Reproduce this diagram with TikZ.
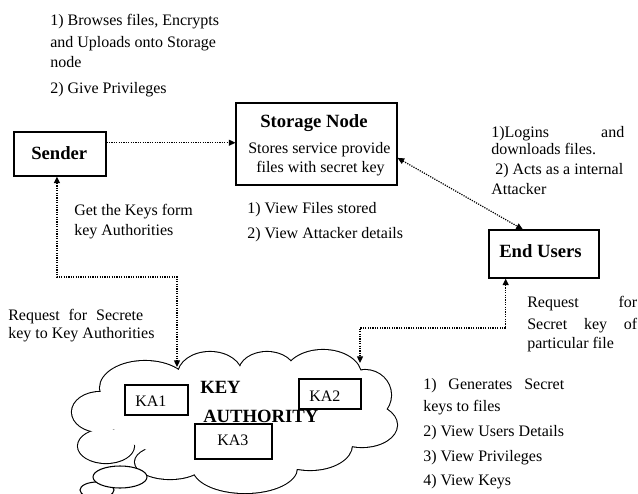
\documentclass[tikz,border=0pt]{standalone}
\usepackage{fontspec}
\setmainfont{Liberation Serif}
\usetikzlibrary{arrows.meta,calc}
\begin{document}
\begin{tikzpicture}[x=0.75pt,y=-0.75pt,
  txt/.style={anchor=base west,inner sep=0pt,font=\fontsize{12}{14}\selectfont},
  btxt/.style={anchor=base west,inner sep=0pt,font=\fontsize{14}{16}\selectfont\bfseries},
  box/.style={draw,line width=0.8pt,inner sep=0pt},
  bubble/.style={draw,fill=white,line width=0.8pt},
  conn/.style={line width=0.9pt,dash pattern=on 0.9pt off 0.9pt},
  tipe/.style={-{Triangle[length=5pt,width=4.5pt]}},
  tipb/.style={{Triangle[length=5pt,width=4.5pt]}-{Triangle[length=5pt,width=4.5pt]}}]
\useasboundingbox (0,0) rectangle (638,493);

% ---- boxes
\node[box,minimum width=69pt,minimum height=33pt] (sender) at (60,154) {};
\node[box,minimum width=120.75pt,minimum height=61.5pt] (storage) at (316.5,144) {};
\node[box,minimum width=82.5pt,minimum height=36pt] (endu) at (544,254) {};

\node[btxt] (sendert) at (31,159) {Sender};
\node[btxt] (stot) at (260,127) {Storage Node};
\node[txt] (sto1) at (248,153) {Stores service provide};
\node[txt] (sto2) at (256,172) {files with secret key};
\node[btxt] (endt) at (499,257) {End Users};

% ---- cloud (thought bubble)
\foreach \cx/\cy/\rx/\ry in {100/412/28/20, 145/388/45/27, 210/375/32/23, 267/372/28/20,
  323/375/38/25, 365/395/26/25, 362/425/35/22, 310/445/42/25, 245/468/52/25,
  170/462/35/17, 106/446/28/17}
  \draw[line width=1.6pt] (\cx,\cy) ellipse [x radius=\rx, y radius=\ry];
\foreach \cx/\cy/\rx/\ry in {100/412/28/20, 145/388/45/27, 210/375/32/23, 267/372/28/20,
  323/375/38/25, 365/395/26/25, 362/425/35/22, 310/445/42/25, 245/468/52/25,
  170/462/35/17, 106/446/28/17, 235/418/125/45}
  \fill[white] (\cx,\cy) ellipse [x radius=\rx, y radius=\ry];
\draw[bubble] (97,490) ellipse [x radius=17, y radius=8];
\draw[bubble] (120,477) ellipse [x radius=27, y radius=11];

\node[box,minimum width=47.25pt,minimum height=22.5pt] (ka1) at (156.5,400) {};
\node[box,minimum width=46.5pt,minimum height=22.5pt] (ka2) at (330,394) {};
\node[box,minimum width=57.75pt,minimum height=26.25pt] (ka3) at (233.5,441.5) {};
\node[txt] (ka1t) at (135,406) {KA1};
\node[txt] (ka2t) at (309,401) {KA2};
\node[txt] (ka3t) at (217,445) {KA3};
\node[btxt] (keyt) at (200,393) {KEY};
\node[btxt] (autht) at (203,422) {AUTHORITY};

% ---- connectors
\coordinate (s1) at ($(sender.north east)!0.25!(sender.south east)$);
\draw[conn,tipe] (s1) -- (storage.west |- s1);

\coordinate (s2) at ($(storage.north east)!0.667!(storage.south east)$);
\coordinate (e1) at ($(endu.north west)!0.31!(endu.north east)$);
\draw[conn,tipb] (s2) -- (e1);

\coordinate (sb) at ($(sender.south west)!0.467!(sender.south east)$);
\coordinate (b1) at (177,277);
\coordinate (k1) at (177,367);
\draw[conn,tipb] (sb) |- (b1) -- (k1);

\coordinate (eb) at ($(endu.south west)!0.155!(endu.south east)$);
\coordinate (b2) at (360,328);
\coordinate (k2) at (360,363);
\draw[conn,tipb] (eb) |- (b2) -- (k2);

% ---- annotations
\node[txt] (a1) at (50,25) {1) Browses files, Encrypts};
\node[txt] (a2) at (50,47) {and Uploads onto Storage};
\node[txt] (a3) at (50,67) {node};
\node[txt] (a4) at (50,93) {2) Give Privileges};

\node[txt] (g1) at (74,215) {Get the Keys form};
\node[txt] (g2) at (74,235) {key Authorities};

\node[txt] (v1) at (247,213) {1) View Files stored};
\node[txt] (v2) at (247,238) {2) View Attacker details};

\node[txt] (l1) at (491,137) {\makebox[99.75pt][s]{1)Logins and}};
\node[txt] (l2) at (491,154) {downloads files.};
\node[txt] (l3) at (491,174) {\ 2) Acts as a internal};
\node[txt] (l4) at (491,194) {Attacker};

\node[txt] (r1) at (8,320) {\makebox[101.25pt][s]{Request for Secrete}};
\node[txt] (r2) at (8,338) {key to Key Authorities};

\node[txt] (q1) at (527,307) {\makebox[82.5pt][s]{Request for}};
\node[txt] (q2) at (527,329) {\makebox[82.5pt][s]{Secret key of}};
\node[txt] (q3) at (527,348) {particular file};

\node[txt] (k1t) at (423,389) {\makebox[105.75pt][s]{1) Generates Secret}};
\node[txt] (k2t) at (423,411) {keys to files};
\node[txt] (k3t) at (423,436) {2) View Users Details};
\node[txt] (k4t) at (423,461) {3) View Privileges};
\node[txt] (k5t) at (423,485) {4) View Keys};
\end{tikzpicture}
\end{document}
